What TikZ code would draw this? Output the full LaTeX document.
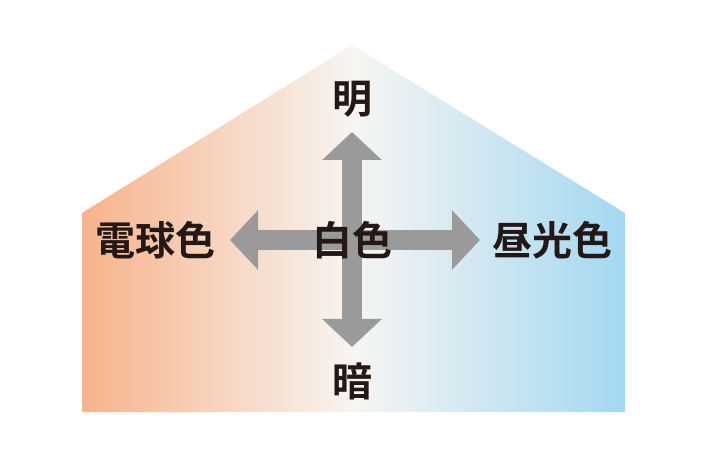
\documentclass[tikz,border=0pt]{standalone}
\usepackage{fontspec}
\newfontfamily\cjk{Noto Sans CJK JP Bold}
\usetikzlibrary{arrows.meta}
\definecolor{warm}{HTML}{F7B38A}
\definecolor{cool}{HTML}{A3D8F1}
\definecolor{mid}{HTML}{F7F5F2}
\definecolor{ink}{HTML}{231815}
\definecolor{arrowgray}{HTML}{9A9A9A}
\tikzset{
  label/.style = {font=\cjk\fontsize{40}{42}\selectfont, text=ink, inner sep=0pt},
  bigarrow/.style = {draw=arrowgray, line width=20pt, -{Triangle[width=58pt,length=28pt]}}
}
\begin{document}
\begin{tikzpicture}[x=1pt, y=-1pt]
  \useasboundingbox (0,0) rectangle (710,465);
  % house
  \shade[left color=warm, right color=cool, middle color=mid]
    (82,412) -- (82,213) -- (352,45) -- (625,213) -- (625,412) -- cycle;
  % arrows
  \coordinate (c) at (352,240);
  \coordinate (up) at (352,132);
  \coordinate (down) at (352,347);
  \coordinate (left) at (230,240);
  \coordinate (right) at (480,240);
  \draw[bigarrow] (c) -- (up);
  \draw[bigarrow] (c) -- (down);
  \draw[bigarrow] (c) -- (left);
  \draw[bigarrow] (c) -- (right);
  % labels
  \node[label] (white) at (c) {白色};
  \node[label] (bright) at (352,99) {明};
  \node[label] (dark) at (352,381) {暗};
  \node[label] (bulb) at (155,240) {電球色};
  \node[label] (day) at (552,240) {昼光色};
\end{tikzpicture}
\end{document}
